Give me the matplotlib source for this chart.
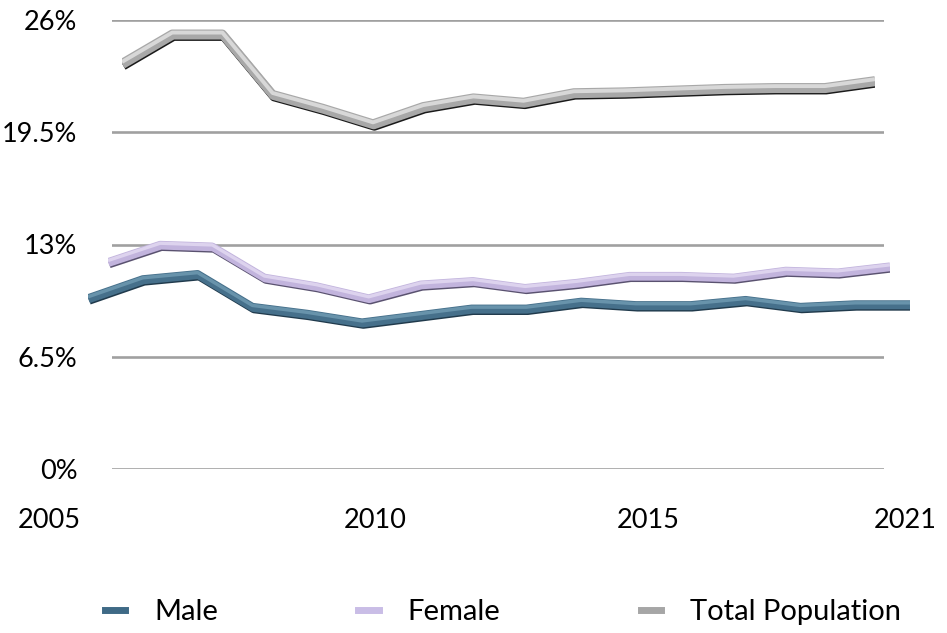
import matplotlib
matplotlib.use("Agg")
import matplotlib.pyplot as plt
import matplotlib.patheffects as pe
from matplotlib.lines import Line2D

plt.rcParams['font.family'] = ['Lato', 'DejaVu Sans']

# data (percent)
years = list(range(2005, 2021))
male = [9.9, 11.0, 11.3, 9.4, 9.0, 8.5, 8.9, 9.3, 9.3, 9.7, 9.5, 9.5, 9.8, 9.4, 9.55, 9.55]
female = [12.0, 13.0, 12.9, 11.1, 10.6, 9.9, 10.7, 10.9, 10.5, 10.8, 11.2, 11.2, 11.1, 11.5, 11.4, 11.75]
total = [23.5, 25.2, 25.2, 21.7, 20.9, 20.0, 21.0, 21.5, 21.25, 21.8, 21.85, 21.95, 22.05, 22.1, 22.1, 22.5]

y_ticks = [0, 6.5, 13, 19.5, 26]
y_labels = ["0%", "6.5%", "13%", "19.5%", "26%"]
x_labels = ["2005", "2010", "2015", "2021"]

W, H = 947, 633
fig = plt.figure(figsize=(W / 100, H / 100), dpi=100)

# back wall with gridlines
ax = fig.add_axes([112 / W, (H - 469) / H, 772 / W, 449 / H])
ax.set_ylim(0, 26)
ax.set_xlim(0, 1)
for t in y_ticks:
    ax.axhline(t, color="#a0a0a0", lw=1.9, zorder=0)
ax.set_yticks(y_ticks)
ax.set_yticklabels(y_labels, fontsize=19.5)
ax.tick_params(axis="y", length=0, pad=25)
ax.set_xticks([])
for s in ax.spines.values():
    s.set_visible(False)
ax.patch.set_alpha(0)

# x labels sit at uneven spots, like the original
x_pos = [49, 375, 648, 905]
for p, lab in zip(x_pos, x_labels):
    fig.text(p / W, 1 - 521 / H, lab, fontsize=19.5, ha="center", va="center")


def tube(left, right, values, base, light, dark, width):
    a = fig.add_axes([left / W, (H - 469) / H, (right - left) / W, 449 / H])
    a.set_xlim(years[0], years[-1])
    a.set_ylim(0, 26)
    a.axis("off")
    a.plot(years, values, color=base, lw=width, solid_capstyle="butt",
           solid_joinstyle="round",
           path_effects=[
               pe.Stroke(offset=(1.0, -2.0), linewidth=width, foreground=dark),
               pe.Stroke(offset=(0.5, -1.0), linewidth=width, foreground=base),
               pe.Normal(),
               pe.Stroke(offset=(0, 0.9), linewidth=width * 0.45, foreground=light),
           ])


# drawn back to front, each shifted a little for the depth look
tube(122, 875, total, "#a8a8a8", "#d8d8d8", "#1a1a1a", 6.2)
tube(108, 890, female, "#c2b4dd", "#ddd3ee", "#5a5270", 5.3)
tube(88, 910, male, "#46708b", "#6893ab", "#203a4c", 5.5)

handles = [
    Line2D([], [], color="#3f6a86", lw=5),
    Line2D([], [], color="#c9bde6", lw=5),
    Line2D([], [], color="#a6a6a6", lw=5),
]
fig.legend(handles, ["Male", "Female", "Total Population"], loc="center",
           bbox_to_anchor=(503 / W, 1 - 612 / H), ncol=3, frameon=False,
           fontsize=21, handlelength=0.7, handletextpad=1.0, columnspacing=4.8)

fig.savefig("out.png", dpi=100)
